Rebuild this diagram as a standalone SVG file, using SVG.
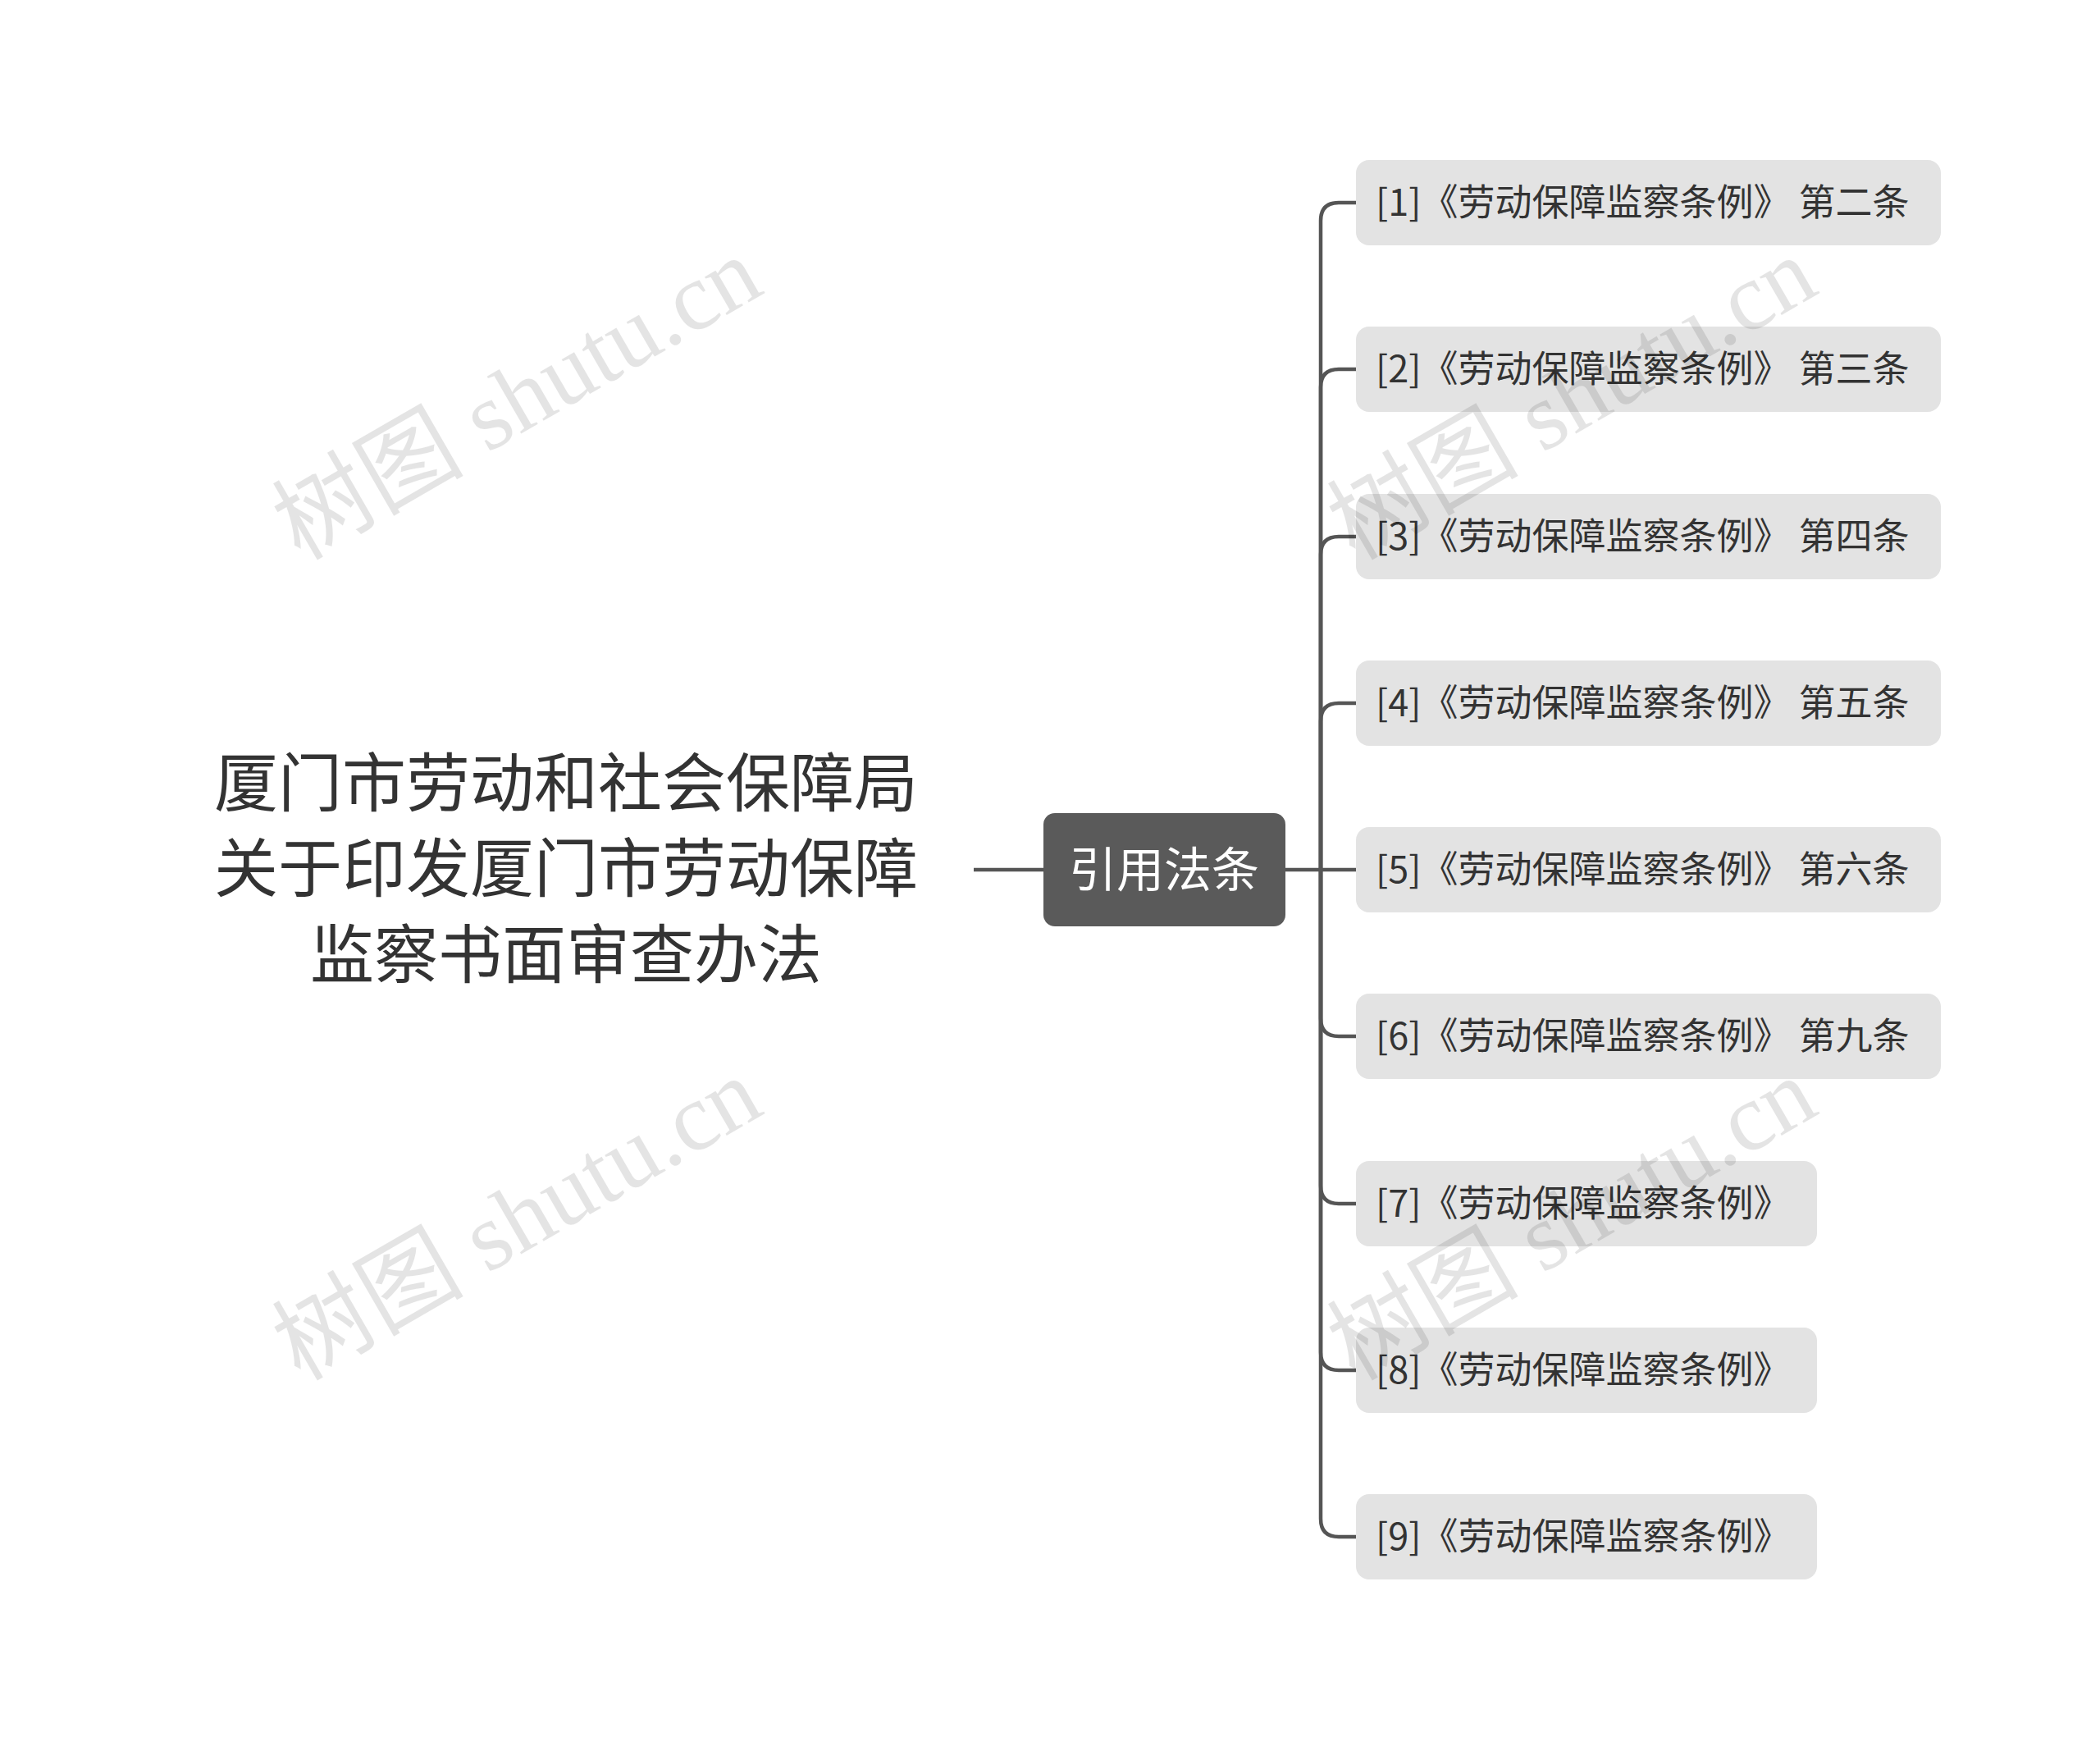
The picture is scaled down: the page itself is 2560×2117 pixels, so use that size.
<svg xmlns="http://www.w3.org/2000/svg" width="2560" height="2117" viewBox="0 0 2560 2117">
<style>
.wm{font-family:"Liberation Serif","Noto Sans CJK SC",serif;font-size:117px;fill:#000;opacity:0.1}
.root{font-family:"Noto Sans CJK SC",sans-serif;font-size:78px;fill:#333;text-anchor:middle}
.c{fill:#e3e3e3}
.ct{font-family:"Noto Sans CJK SC",sans-serif;font-size:45px;fill:#333}
.ln{fill:none;stroke:#555;stroke-width:4.5}
</style>
<rect width="2560" height="2117" fill="#fff"/>
<g transform="translate(-6,-2)">
<g id="connectors">
<path class="ln" d="M1193,1062 H1278"/>
<path class="ln" d="M1573,1062 H1659"/>
<path class="ln" d="M1616,1062 V271 Q1616,249 1638,249 H1659"/>
<path class="ln" d="M1616,1062 V474 Q1616,452 1638,452 H1659"/>
<path class="ln" d="M1616,1062 V678 Q1616,656 1638,656 H1659"/>
<path class="ln" d="M1616,1062 V881 Q1616,859 1638,859 H1659"/>
<path class="ln" d="M1616,1062 V1243 Q1616,1265 1638,1265 H1659"/>
<path class="ln" d="M1616,1062 V1447 Q1616,1469 1638,1469 H1659"/>
<path class="ln" d="M1616,1062 V1650 Q1616,1672 1638,1672 H1659"/>
<path class="ln" d="M1616,1062 V1853 Q1616,1875 1638,1875 H1659"/>
</g>
<g id="root">
<text class="root" x="696" y="985">厦门市劳动和社会保障局</text>
<text class="root" x="696" y="1089">关于印发厦门市劳动保障</text>
<text class="root" x="696" y="1194">监察书面审查办法</text>
</g>
<g id="center">
<rect x="1278" y="993" width="295" height="138" rx="14" fill="#5a5a5a"/>
<text x="1425" y="1083" text-anchor="middle" font-family="Noto Sans CJK SC,sans-serif" font-size="58" fill="#fff">引用法条</text>
</g>
<g id="n1"><rect class="c" x="1659" y="197" width="713" height="104" rx="16"/><text class="ct" x="1683" y="265">[1]《劳动保障监察条例》 第二条</text></g>
<g id="n2"><rect class="c" x="1659" y="400" width="713" height="104" rx="16"/><text class="ct" x="1683" y="468">[2]《劳动保障监察条例》 第三条</text></g>
<g id="n3"><rect class="c" x="1659" y="604" width="713" height="104" rx="16"/><text class="ct" x="1683" y="672">[3]《劳动保障监察条例》 第四条</text></g>
<g id="n4"><rect class="c" x="1659" y="807" width="713" height="104" rx="16"/><text class="ct" x="1683" y="875">[4]《劳动保障监察条例》 第五条</text></g>
<g id="n5"><rect class="c" x="1659" y="1010" width="713" height="104" rx="16"/><text class="ct" x="1683" y="1078">[5]《劳动保障监察条例》 第六条</text></g>
<g id="n6"><rect class="c" x="1659" y="1213" width="713" height="104" rx="16"/><text class="ct" x="1683" y="1281">[6]《劳动保障监察条例》 第九条</text></g>
<g id="n7"><rect class="c" x="1659" y="1417" width="562" height="104" rx="16"/><text class="ct" x="1683" y="1485">[7]《劳动保障监察条例》</text></g>
<g id="n8"><rect class="c" x="1659" y="1620" width="562" height="104" rx="16"/><text class="ct" x="1683" y="1688">[8]《劳动保障监察条例》</text></g>
<g id="n9"><rect class="c" x="1659" y="1823" width="562" height="104" rx="16"/><text class="ct" x="1683" y="1891">[9]《劳动保障监察条例》</text></g>
</g>
<g id="watermarks">
<text class="wm" transform="translate(650,520) rotate(-30)" text-anchor="middle">树图 shutu.cn</text>
<text class="wm" transform="translate(1936,520) rotate(-30)" text-anchor="middle">树图 shutu.cn</text>
<text class="wm" transform="translate(650,1520) rotate(-30)" text-anchor="middle">树图 shutu.cn</text>
<text class="wm" transform="translate(1936,1520) rotate(-30)" text-anchor="middle">树图 shutu.cn</text>
</g>
</svg>
